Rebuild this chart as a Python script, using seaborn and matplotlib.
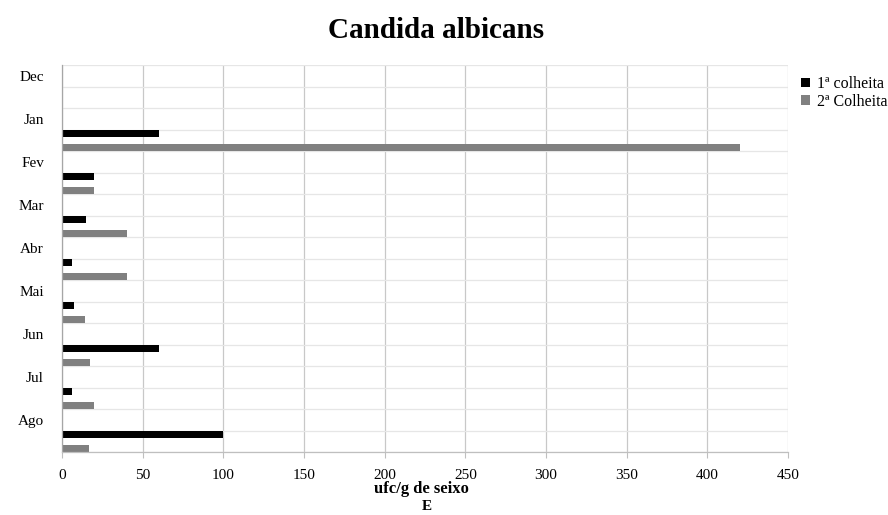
import matplotlib
matplotlib.use("Agg")
import matplotlib.pyplot as plt
from matplotlib.patches import Patch
import seaborn as sns
import pandas as pd

# Monthly counts (ufc/g de seixo) for the two harvests
months = ["Dec", "Jan", "Fev", "Mar", "Abr", "Mai", "Jun", "Jul", "Ago"]
colheita_1 = [0, 60, 20, 15, 6.5, 7.5, 60, 6.5, 100]
colheita_2 = [0, 420, 20, 40, 40, 14.5, 17.5, 20, 16.5]
series_names = ["1ª colheita", "2ª Colheita"]
x_ticks = [0, 50, 100, 150, 200, 250, 300, 350, 400, 450]

# Each month takes two rows on the category axis: one for its label, one for its bars
slot_order = []
for m in months:
    slot_order += [m, m + " bars"]

rows = []
for m, a, b in zip(months, colheita_1, colheita_2):
    rows.append({"slot": m + " bars", "serie": series_names[0], "valor": a})
    rows.append({"slot": m + " bars", "serie": series_names[1], "valor": b})
df = pd.DataFrame(rows)

sns.set_theme(style="white")
plt.rcParams["font.family"] = ["Liberation Serif", "DejaVu Serif"]
plt.rcParams["text.color"] = "black"
plt.rcParams["axes.labelcolor"] = "black"

fig = plt.figure(figsize=(8.88, 5.15), dpi=100)
ax = fig.add_axes([62 / 888, 1 - 452 / 515, (788 - 62) / 888, (452 - 65) / 515])

palette = {series_names[0]: "#000000", "_gap": "#ffffff", series_names[1]: "#808080"}
sns.barplot(
    data=df, y="slot", x="valor", hue="serie",
    order=slot_order, hue_order=[series_names[0], "_gap", series_names[1]],
    palette=palette, orient="h", width=1.0, dodge=True,
    linewidth=0, legend=False, errorbar=None, ax=ax,
)

ax.set_xlim(0, 450)
ax.set_ylim(len(slot_order) - 0.5, -0.5)
ax.set_xticks(x_ticks)
ax.set_xticklabels([str(t) for t in x_ticks], fontsize=11)

ax.set_yticks(range(len(slot_order)))
ax.set_yticklabels([s if s in months else "" for s in slot_order], fontsize=11)
ax.set_yticks([i - 0.5 for i in range(len(slot_order) + 1)], minor=True)
ax.tick_params(axis="y", which="both", length=0, pad=13, labelcolor="black")
ax.tick_params(axis="x", which="major", length=4, width=0.8, color="#bfbfbf",
               direction="out", pad=8.5, bottom=True, labelcolor="black")

ax.grid(axis="x", which="major", color="#c8c8c8", linewidth=0.9)
ax.grid(axis="y", which="minor", color="#e6e6e6", linewidth=0.9)
ax.set_axisbelow(True)

for side in ["top", "right"]:
    ax.spines[side].set_visible(False)
ax.spines["left"].set_color("#a6a6a6")
ax.spines["left"].set_linewidth(0.9)
ax.spines["bottom"].set_color("#bfbfbf")
ax.spines["bottom"].set_linewidth(0.9)

ax.set_ylabel("")
ax.set_xlabel("")
fig.text(421 / 888, 1 - 489 / 515, "ufc/g de seixo", ha="center", va="center",
         fontsize=12, fontweight="bold")
fig.text(427 / 888, 1 - 507 / 515, "E", ha="center", va="center",
         fontsize=11, fontweight="bold")

fig.text(436 / 888, 1 - 31 / 515, "Candida albicans", ha="center", va="center",
         fontsize=21, fontweight="bold")

handles = [Patch(facecolor=palette[s], edgecolor="none", label=s) for s in series_names]
fig.legend(handles=handles, loc="upper left", bbox_to_anchor=(801 / 888, 1 - 76 / 515),
           frameon=False, fontsize=11.5, handlelength=0.55, handleheight=0.55,
           handletextpad=0.45, labelspacing=0.1, borderaxespad=0, borderpad=0)

fig.savefig("out.png", dpi=100)
